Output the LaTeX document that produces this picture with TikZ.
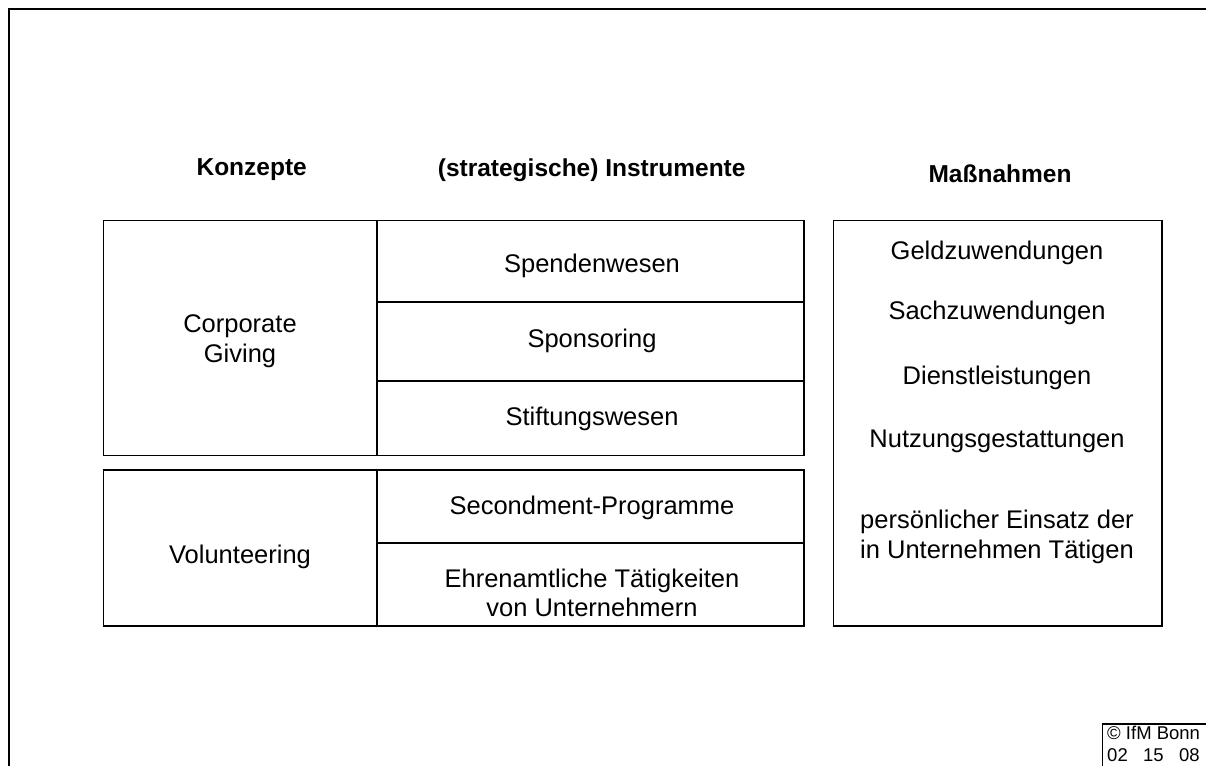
\documentclass[tikz,border=0pt]{standalone}
\usepackage{fontspec}
\setmainfont{Liberation Sans}
\begin{document}
\begin{tikzpicture}[x=1pt,y=-1pt,
  cell/.style={draw=black,line width=1.4pt,inner sep=0pt,outer sep=0pt,anchor=north west},
  txt/.style={font=\fontsize{25.5}{29.5}\selectfont,align=center,inner sep=0pt},
  head/.style={font=\fontsize{24.5}{29}\selectfont\bfseries,inner sep=0pt}]
\useasboundingbox (0,0) rectangle (1206,765);
\begin{scope}
\clip (0,0) rectangle (1206,765);
\node[cell,line width=2pt,minimum width=1230pt,minimum height=800pt] (frame) at (8.5,9.5) {};
\node[cell,line width=1.2pt,minimum width=150pt,minimum height=80pt] (copy) at (1102.7,724) {};
\node[anchor=north west,inner sep=0pt,align=left,font=\fontsize{18.5}{22}\selectfont] (copyt) at (1107,726) {© IfM Bonn\\02~~~15~~~08};
\end{scope}
% headings
\node[head] (h1) at (251.7,170) {Konzepte};
\node[head] (h2) at (591.7,170) {(strategische) Instrumente};
\node[head] (h3) at (1000,174) {Maßnahmen};
% group 1
\node[cell,minimum width=273.5pt,minimum height=235pt] (cg) at (103.5,220.5) {};
\node[cell,minimum width=427pt,minimum height=81.5pt] (sp) at (377,220.5) {};
\node[cell,minimum width=427pt,minimum height=79pt] (so) at (377,302) {};
\node[cell,minimum width=427pt,minimum height=74.5pt] (st) at (377,381) {};
% group 2
\node[cell,minimum width=273.5pt,minimum height=156pt] (vo) at (103.5,470) {};
\node[cell,minimum width=427pt,minimum height=73pt] (se) at (377,470) {};
\node[cell,minimum width=427pt,minimum height=83pt] (eh) at (377,543) {};
% measures
\node[cell,minimum width=328.5pt,minimum height=405.5pt] (ma) at (833.5,220.5) {};
% texts
\node[txt] (tcg) at (240,341) {Corporate\\Giving};
\node[txt] (tsp) at (592,266) {Spendenwesen};
\node[txt] (tso) at (592,341) {Sponsoring};
\node[txt] (tst) at (592,419) {Stiftungswesen};
\node[txt] (tvo) at (240,557) {Volunteering};
\node[txt] (tse) at (592,508) {Secondment-Programme};
\node[txt] (teh) at (592,593) {Ehrenamtliche Tätigkeiten\\von Unternehmern};
\node[txt] (m1) at (997,253) {Geldzuwendungen};
\node[txt] (m2) at (997,313) {Sachzuwendungen};
\node[txt] (m3) at (997,378) {Dienstleistungen};
\node[txt] (m4) at (997,441) {Nutzungsgestattungen};
\node[txt] (m5) at (997,537) {persönlicher Einsatz der\\in Unternehmen Tätigen};
\end{tikzpicture}
\end{document}
